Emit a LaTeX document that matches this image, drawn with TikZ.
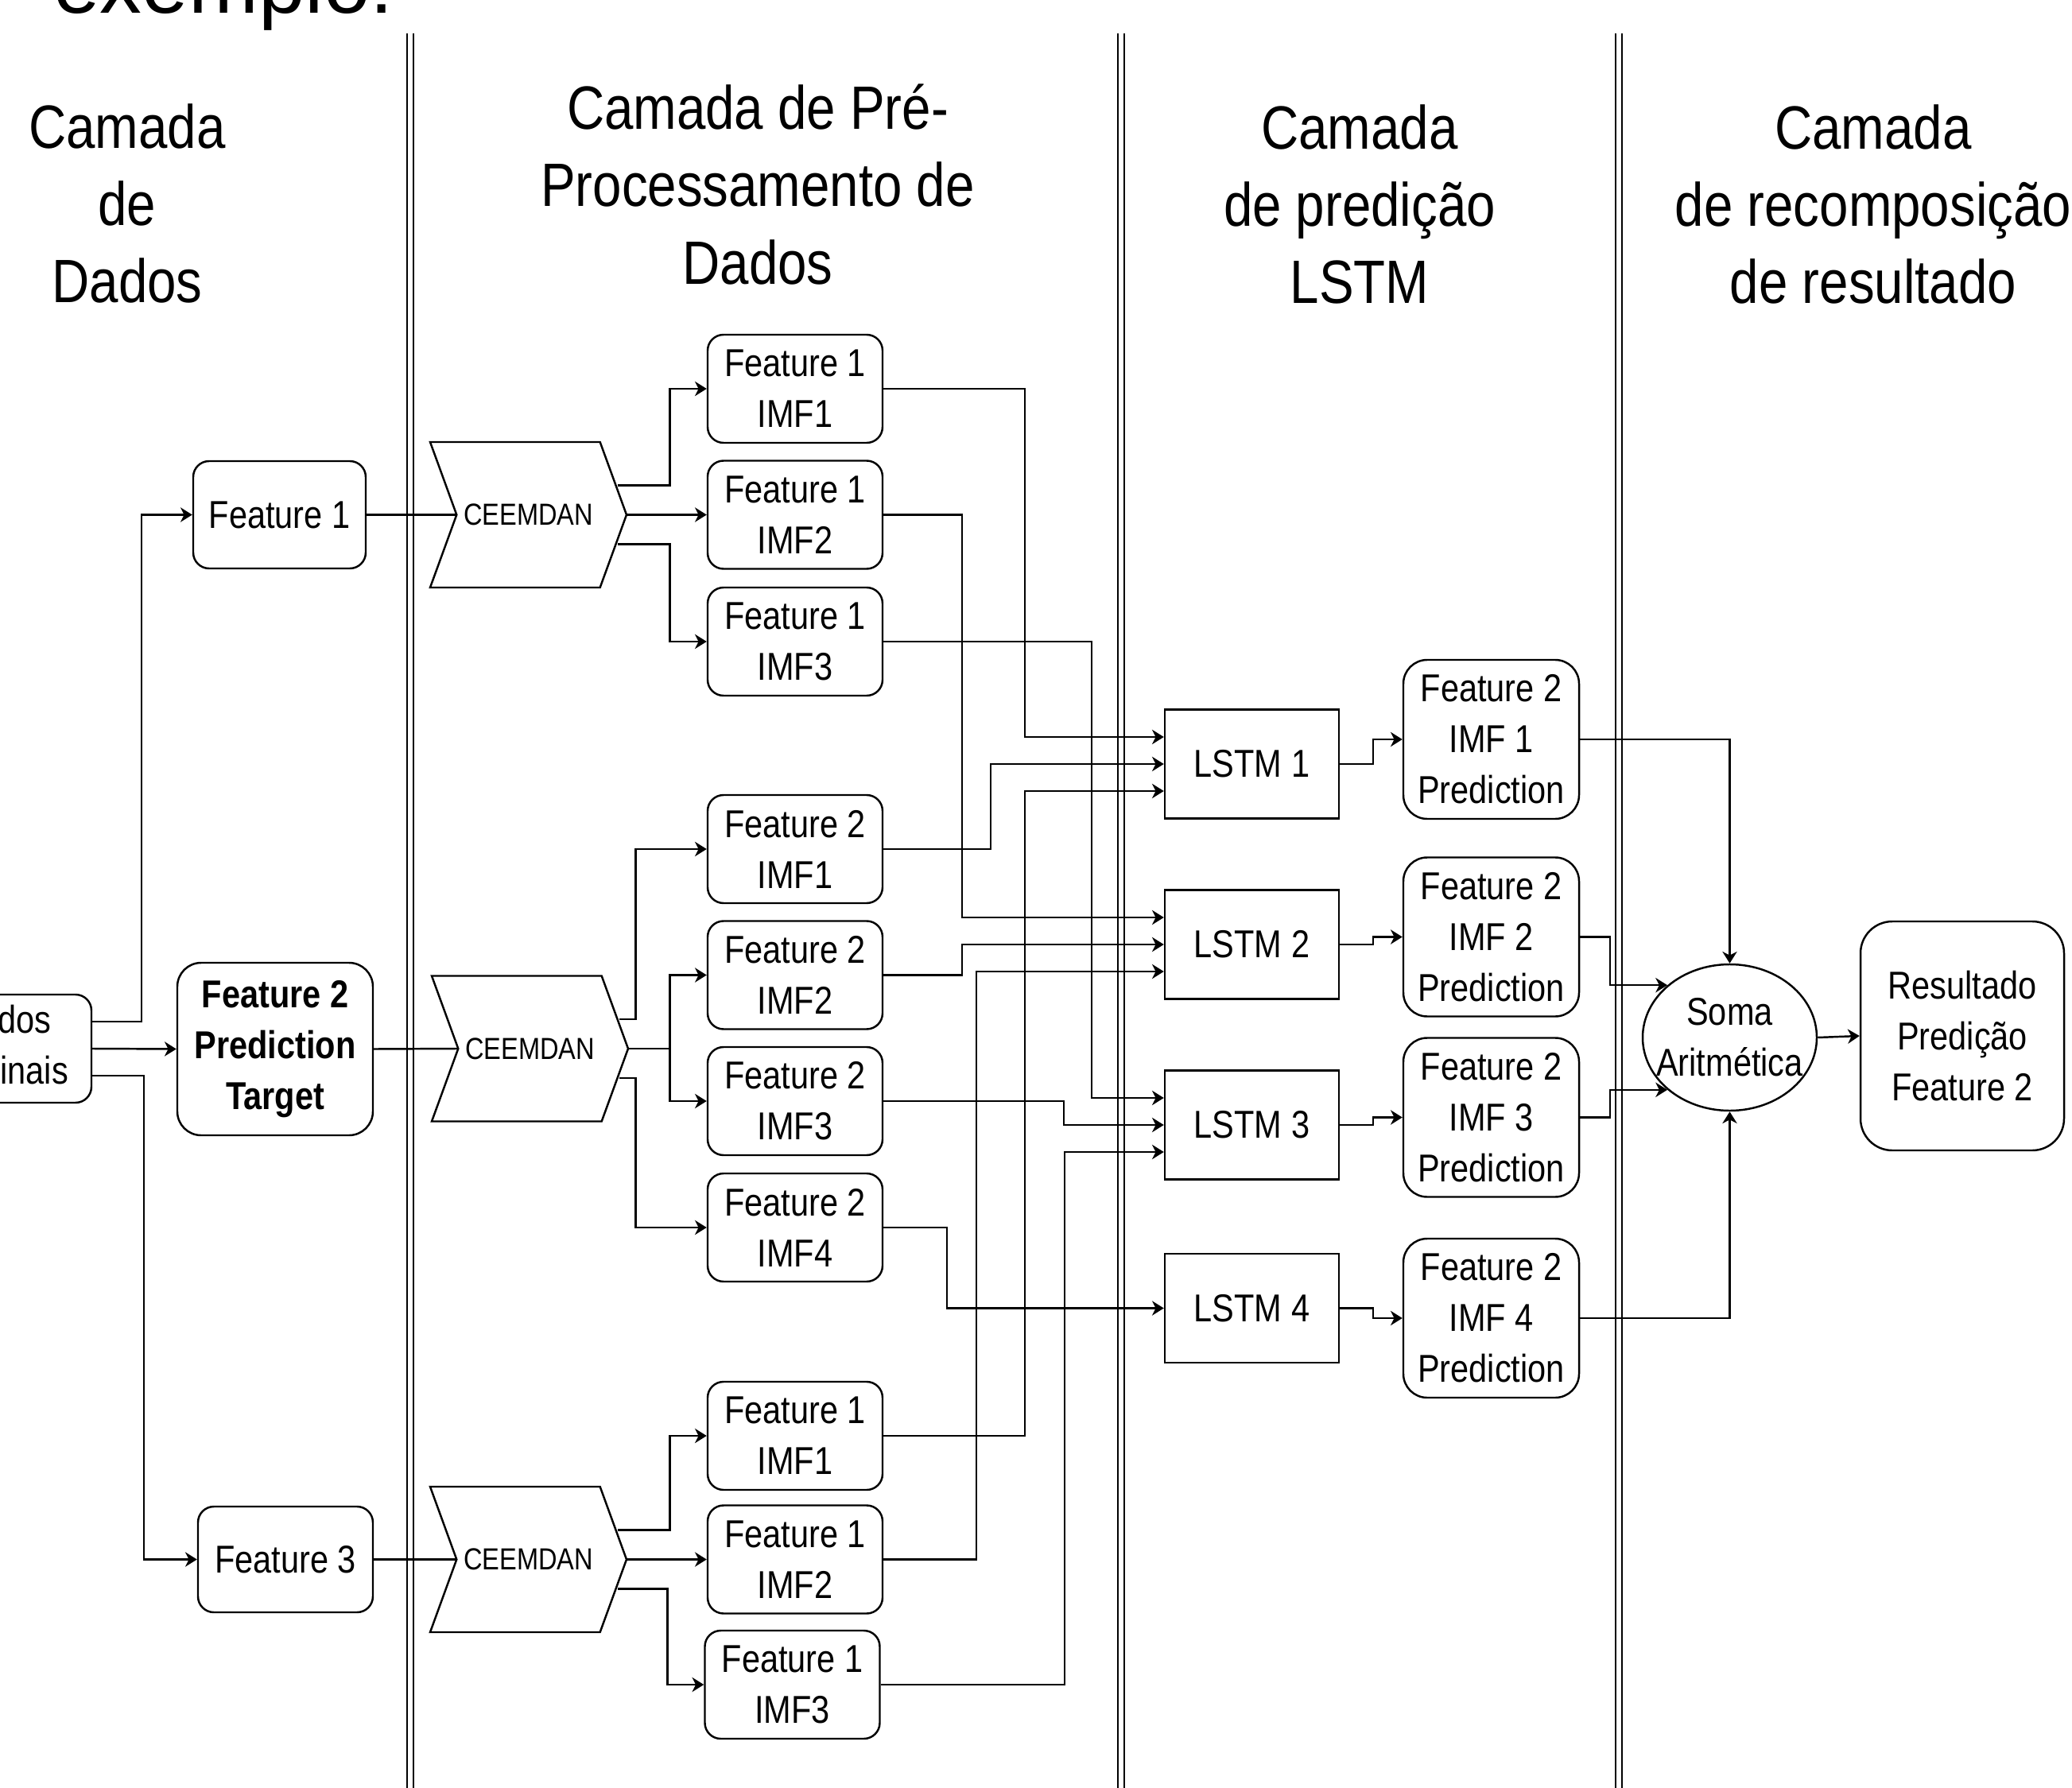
\documentclass[tikz,border=0pt]{standalone}
\usepackage{fontspec}
\setmainfont{Liberation Sans}[FakeStretch=0.85]
\newfontfamily\slidefont{Liberation Sans}
\usetikzlibrary{arrows.meta,shapes.geometric,shapes.symbols}
\newcommand{\boxfont}{\fontsize{13.9}{18.2}\selectfont}
\newcommand{\headfont}{\fontsize{21.9}{27.7}\selectfont}
\tikzset{
	layer title/.style={
		align=center,
		font=\headfont,
		inner sep=0pt
	},
	rbox/.style={
		rectangle,
		rounded corners=2mm,
		draw,
		align=center,
		font=\boxfont,
		inner sep=0pt,
		minimum width=2.2cm,
		minimum height=1.36cm
	},
	lstm box/.style={
		rectangle,
		draw,
		font=\boxfont,
		inner sep=0pt,
		minimum width=2.19cm,
		minimum height=1.37cm
	},
	prediction/.style={
		rbox,
		rounded corners=3mm,
		minimum width=2.21cm,
		minimum height=2cm
	},
	ceemdan/.style={
		signal,
		signal from=west,
		signal to=east,
		signal pointer angle=140,
		draw,
		inner sep=0pt,
		minimum width=2.47cm,
		minimum height=1.83cm,
		font=\fontsize{10.9}{13}\selectfont
	},
	sum/.style={
		ellipse,
		draw,
		inner sep=0pt,
		minimum width=2.19cm,
		minimum height=1.84cm
	},
	flow/.style={-{Stealth[length=4.2pt,width=5.2pt,inset=1.3pt]}},
	layer sep/.style={double, double distance=1.8pt, line width=0.5pt}
}

\begin{document}
\begin{tikzpicture}[line width=0.7pt]
	\useasboundingbox (0,0) rectangle (26.06,-22.49);
	\node[anchor=base west, inner sep=0pt, font=\slidefont\fontsize{30}{36}\selectfont] (slidetitle) at (0.66,-0.17) {exemplo:};
	% layers
	\foreach \x in {5.16,14.10,20.36}
		\draw[layer sep] (\x,-0.42) -- (\x,-22.49);
	\node[layer title] (hdata) at (1.60,-2.56) {Camada\\de\\Dados};
	\node[layer title] (hpre) at (9.53,-2.32) {Camada de Pré-\\Processamento de\\Dados};
	\node[layer title] (hlstm) at (17.10,-2.57) {Camada\\de predição\\LSTM};
	\node[layer title] (hrec) at (23.56,-2.57) {Camada\\de recomposição\\de resultado};
	% data
	\node[rbox, minimum width=2.22cm] (dados) at (0.04,-13.19) {Dados\\Originais};
	\node[rbox, minimum width=2.17cm, minimum height=1.35cm] (feat1) at (3.515,-6.475) {Feature 1};
	\node[rbox, rounded corners=3mm, minimum width=2.46cm, minimum height=2.17cm, font=\boxfont\bfseries] (target) at (3.46,-13.195) {Feature 2\\Prediction\\Target};
	\node[rbox, minimum height=1.33cm] (feat3) at (3.59,-19.615) {Feature 3};
	% pre-processing
	\node[ceemdan] (ceem1) at (6.645,-6.475) {CEEMDAN};
	\node[ceemdan] (ceem2) at (6.665,-13.19) {CEEMDAN};
	\node[ceemdan] (ceem3) at (6.645,-19.615) {CEEMDAN};
	\foreach \i/\y in {1/-4.89,2/-6.475,3/-8.07}
		\node[rbox] (fa\i) at (10,\y) {Feature 1\\IMF\i};
	\foreach \i/\y in {1/-10.68,2/-12.265,3/-13.85,4/-15.44}
		\node[rbox] (fb\i) at (10,\y) {Feature 2\\IMF\i};
	\foreach \i/\x/\y in {1/10/-18.06,2/10/-19.615,3/9.965/-21.19}
		\node[rbox] (fc\i) at (\x,\y) {Feature 1\\IMF\i};
	% lstm
	\foreach \i/\y in {1/-9.61,2/-11.88,3/-14.15,4/-16.455}
		\node[lstm box] (lstm\i) at (15.745,\y) {LSTM \i};
	\foreach \i/\y in {1/-9.30,2/-11.785,3/-14.055,4/-16.58}
		\node[prediction] (pred\i) at (18.755,\y) {Feature 2\\IMF \i\\Prediction};
	% recomposition
	\node[sum] (soma) at (21.755,-13.05) {};
	\node[align=center, font=\boxfont, inner sep=0pt] (somatext) at (soma) {Soma\\Aritmética};
	\node[rbox, rounded corners=4mm, minimum width=2.56cm, minimum height=2.88cm] (result) at (24.68,-13.03) {Resultado\\Predição\\Feature 2};

	\draw[flow] ([yshift=3.4mm]dados.east) -- ++(0.62,0) |- (feat1.west);
	\draw[flow] (dados.east) -- (target.west);
	\draw[flow] ([yshift=-3.4mm]dados.east) -- ++(0.65,0) |- (feat3.west);
	\draw (feat1.east) -- (ceem1.west);
	\draw (target.east) -- (ceem2.west);
	\draw (feat3.east) -- (ceem3.west);

	\draw[flow] ([xshift=-1.2mm,yshift=3.7mm]ceem1.east) -- ++(0.65,0) |- (fa1.west);
	\draw[flow] (ceem1.east) -- (fa2.west);
	\draw[flow] ([xshift=-1.2mm,yshift=-3.7mm]ceem1.east) -- ++(0.65,0) |- (fa3.west);
	\draw[flow] ([xshift=-1.2mm,yshift=3.7mm]ceem2.east) -- ++(0.2,0) |- (fb1.west);
	\draw[flow] (ceem2.east) -- ++(0.51,0) coordinate (fork2) |- (fb2.west);
	\draw[flow] (fork2) |- (fb3.west);
	\draw[flow] ([xshift=-1.2mm,yshift=-3.7mm]ceem2.east) -- ++(0.2,0) |- (fb4.west);
	\draw[flow] ([xshift=-1.2mm,yshift=3.7mm]ceem3.east) -- ++(0.65,0) |- (fc1.west);
	\draw[flow] (ceem3.east) -- (fc2.west);
	\draw[flow] ([xshift=-1.2mm,yshift=-3.7mm]ceem3.east) -- ++(0.62,0) |- (fc3.west);

	\foreach \src/\dx/\dy/\dst in {fa1/1.78/3.4/lstm1, fb1/1.35/0/lstm1, fc1/1.78/-3.4/lstm1,
			fa2/0.99/3.4/lstm2, fb2/0.99/0/lstm2, fc2/1.17/-3.4/lstm2,
			fa3/2.62/3.4/lstm3, fb3/2.27/0/lstm3, fc3/2.31/-3.4/lstm3,
			fb4/0.80/0/lstm4}
		\draw[flow] (\src.east) -- ++(\dx,0) |- ([yshift=\dy mm]\dst.west);
	\foreach \i in {1,...,4}
		\draw[flow] (lstm\i.east) -- ++(0.42,0) |- (pred\i.west);

	\draw[flow] (pred1.east) -| (soma.north);
	\draw[flow] (pred2.east) -- ++(0.38,0) |- (soma.140);
	\draw[flow] (pred3.east) -- ++(0.38,0) |- (soma.220);
	\draw[flow] (pred4.east) -| (soma.south);
	\draw[flow] (soma.east) -- (result.west);
\end{tikzpicture}
\end{document}
